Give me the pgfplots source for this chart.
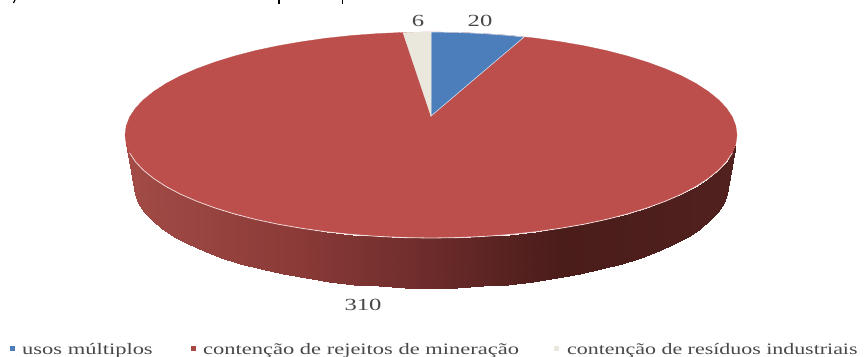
\documentclass[border=0pt]{standalone}
\usepackage{fontspec}
\setmainfont{Liberation Serif}
\usepackage{pgfplots}
\pgfplotsset{compat=1.18}
\definecolor{pieblue}{HTML}{4C7EBB}
\definecolor{piered}{HTML}{BC4F4C}
\definecolor{piebeige}{HTML}{EAE8DD}
\definecolor{labelgray}{HTML}{484848}
\newcommand{\wide}[2][1.45]{\scalebox{#1}[1]{#2}}
\begin{document}
\begin{tikzpicture}
\clip (0,0) rectangle (864pt,356pt);
\begin{axis}[
  at={(0,0)}, anchor=south west,
  scale only axis, width=864pt, height=356pt,
  xmin=0, xmax=864, ymin=0, ymax=356, y dir=reverse,
  hide axis, clip=false,
  colormap={piedepth}{rgb255(0)=(162,75,71) rgb255(170)=(138,58,55) rgb255(300)=(108,44,43) rgb255(430)=(74,28,26) rgb255(605)=(80,33,30)},
]
% side of the disc: upper row, then lower row
\addplot[surf, shader=interp, mesh/rows=2, point meta=x, point meta min=130, point meta max=735] coordinates {
 (126.2,144)(129.6,152.9)(135.4,161.7)(143.4,170.2)(153.7,178.5)(166,186.5)(180.3,194.1)(196.6,201.2)(214.6,207.8)(234.3,213.9)(255.5,219.4)(278,224.2)(301.7,228.3)(326.3,231.8)(351.8,234.5)(377.9,236.4)(404.3,237.6)(431,238)(457.7,237.6)(484.1,236.4)(510.2,234.5)(535.7,231.8)(560.3,228.3)(584,224.2)(606.5,219.4)(627.7,213.9)(647.4,207.8)(665.4,201.2)(681.7,194.1)(696,186.5)(708.3,178.5)(718.6,170.2)(726.6,161.7)(732.4,152.9)(735.8,144)

 (135.1,194)(138.5,202.9)(144.1,211.7)(151.9,220.2)(161.8,228.5)(173.8,236.5)(187.7,244.1)(203.5,251.2)(221,257.8)(240.1,263.9)(260.6,269.4)(282.5,274.2)(305.5,278.3)(329.4,281.8)(354.1,284.5)(379.4,286.4)(405.1,287.6)(431,288)(456.9,287.6)(482.6,286.4)(507.9,284.5)(532.6,281.8)(556.5,278.3)(579.5,274.2)(601.4,269.4)(621.9,263.9)(641,257.8)(658.5,251.2)(674.3,244.1)(688.2,236.5)(700.2,228.5)(710.1,220.2)(717.9,211.7)(723.5,202.9)(726.9,194)
};
% top of the disc: 310
\addplot[fill=piered, draw=piered, line width=0.3pt] coordinates {
 (737,135)(735.8,126)(732.4,117.1)(726.6,108.3)(718.6,99.8)(708.3,91.5)(696,83.5)(681.7,75.9)(665.4,68.8)(647.4,62.2)(627.7,56.1)(606.5,50.6)(584,45.8)(560.3,41.7)(535.7,38.2)(510.2,35.5)(484.1,33.6)(457.7,32.4)(431,32)
 (404.3,32.4)(377.9,33.6)(351.8,35.5)(326.3,38.2)(301.7,41.7)(278,45.8)(255.5,50.6)(234.3,56.1)(214.6,62.2)(196.6,68.8)(180.3,75.9)(166,83.5)(153.7,91.5)(143.4,99.8)(135.4,108.3)(129.6,117.1)(126.2,126)(125,135)
 (126.2,144)(129.6,152.9)(135.4,161.7)(143.4,170.2)(153.7,178.5)(166,186.5)(180.3,194.1)(196.6,201.2)(214.6,207.8)(234.3,213.9)(255.5,219.4)(278,224.2)(301.7,228.3)(326.3,231.8)(351.8,234.5)(377.9,236.4)(404.3,237.6)(431,238)
 (457.7,237.6)(484.1,236.4)(510.2,234.5)(535.7,231.8)(560.3,228.3)(584,224.2)(606.5,219.4)(627.7,213.9)(647.4,207.8)(665.4,201.2)(681.7,194.1)(696,186.5)(708.3,178.5)(718.6,170.2)(726.6,161.7)(732.4,152.9)(735.8,144)(737,135)
} -- cycle;
% light rim along the front edge
\addplot[white, opacity=0.75, line width=0.8pt] coordinates {
 (129.6,152.9)(135.4,161.7)(143.4,170.2)(153.7,178.5)(166,186.5)(180.3,194.1)(196.6,201.2)(214.6,207.8)(234.3,213.9)(255.5,219.4)(278,224.2)(301.7,228.3)(326.3,231.8)(351.8,234.5)(377.9,236.4)(404.3,237.6)(431,238)(457.7,237.6)(484.1,236.4)(510.2,234.5)(535.7,231.8)(560.3,228.3)(584,224.2)(606.5,219.4)(627.7,213.9)(647.4,207.8)(665.4,201.2)(681.7,194.1)(696,186.5)(708.3,178.5)(718.6,170.2)(726.6,161.7)(732.4,152.9)
};
% 20
\addplot[fill=pieblue, draw=white!75!pieblue, line width=0.6pt] coordinates {
 (431,116)(431,32)(457.7,32.4)(484.1,33.6)(510.2,35.5)(524,37.1)
} -- cycle;
% 6
\addplot[fill=piebeige, draw=piebeige, line width=0.4pt] coordinates {
 (431,116)(431,32)(417,32.1)(403,32.6)
} -- cycle;
% fragments of the cropped line of text above the chart
\addplot[black, line width=1.2pt] coordinates {(279,0)(279,4)};
\addplot[black, line width=1.2pt] coordinates {(342.5,0)(342.5,4)};
\addplot[black, line width=1.2pt] coordinates {(15,0)(13.5,3)};
% legend markers
\addplot[only marks, mark=square*, mark size=2pt, color=pieblue] coordinates {(12,348)};
\addplot[only marks, mark=square*, mark size=2pt, color=piered!90!black] coordinates {(193,348)};
\addplot[only marks, mark=square*, mark size=2pt, color=piebeige] coordinates {(556,348)};
% data labels
\node[labelgray, font=\fontsize{17}{17}\selectfont] at (axis cs:418,21) {\wide{6}};
\node[labelgray, font=\fontsize{17}{17}\selectfont] at (axis cs:480,21) {\wide{20}};
\node[labelgray, font=\fontsize{17}{17}\selectfont] at (axis cs:363,305) {\wide{310}};
% legend
\node[labelgray, anchor=base west, inner xsep=0pt, font=\fontsize{16}{16}\selectfont] at (axis cs:22,354) {\wide[1.405]{usos múltiplos}};
\node[labelgray, anchor=base west, inner xsep=0pt, font=\fontsize{16}{16}\selectfont] at (axis cs:203,354) {\wide[1.405]{contenção de rejeitos de mineração}};
\node[labelgray, anchor=base west, inner xsep=0pt, font=\fontsize{16}{16}\selectfont] at (axis cs:567,354) {\wide[1.37]{contenção de resíduos industriais}};
\end{axis}
\end{tikzpicture}
\end{document}
